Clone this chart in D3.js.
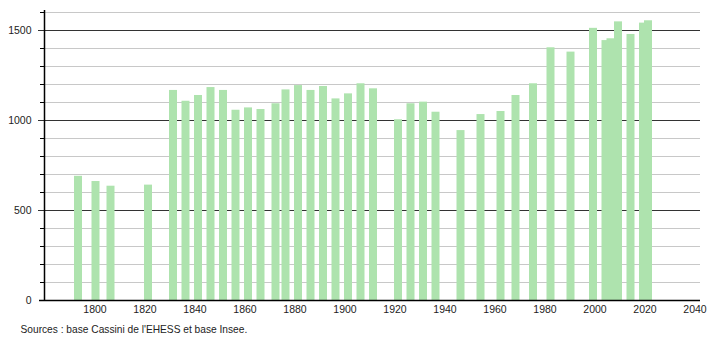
<!DOCTYPE html>
<html>
<head>
<meta charset="utf-8">
<script src="https://cdn.jsdelivr.net/npm/d3@7"></script>
<style>
  html, body { margin: 0; padding: 0; background: #fff; }
  svg text { font-family: "Liberation Sans", Arial, sans-serif; }
</style>
</head>
<body>
<svg id="chart" width="710" height="340"></svg>
<script>
const years = [1793, 1800, 1806, 1821, 1831, 1836, 1841, 1846, 1851, 1856,
  1861, 1866, 1872, 1876, 1881, 1886, 1891, 1896, 1901, 1906, 1911,
  1921, 1926, 1931, 1936, 1946, 1954, 1962, 1968, 1975, 1982, 1990,
  1999, 2004, 2006, 2009, 2014, 2019, 2021];
const population = [690, 661, 635, 641, 1167, 1107, 1139, 1183, 1167, 1057,
  1070, 1061, 1093, 1170, 1194, 1167, 1189, 1120, 1148, 1204, 1176,
  1004, 1093, 1102, 1046, 944, 1033, 1050, 1139, 1204, 1404, 1380,
  1512, 1444, 1454, 1548, 1478, 1541, 1554];
const xTicks = [1800, 1820, 1840, 1860, 1880, 1900, 1920, 1940, 1960, 1980, 2000, 2020, 2040];
const yMajorTicks = [0, 500, 1000, 1500];
const yMinorTicks = d3.range(100, 1700, 100).filter(v => v % 500 !== 0);
const sourceText = "Sources : base Cassini de l'EHESS et base Insee.";

const svg = d3.select("#chart");
const x = d3.scaleLinear().domain([1780, 2042]).range([45, 700]);
const y = d3.scaleLinear().domain([0, 1600]).range([300, 12]);
const barW = 8;

// light gridlines
svg.append("g").selectAll("line").data(yMinorTicks).join("line")
  .attr("x1", 44).attr("x2", 700)
  .attr("y1", d => Math.round(y(d)) + 0.5).attr("y2", d => Math.round(y(d)) + 0.5)
  .attr("stroke", "#c8c8c8").attr("stroke-width", 1);
// minor tick marks
svg.append("g").selectAll("line").data(yMinorTicks).join("line")
  .attr("x1", 40).attr("x2", 44)
  .attr("y1", d => Math.round(y(d)) + 0.5).attr("y2", d => Math.round(y(d)) + 0.5)
  .attr("stroke", "#000").attr("stroke-width", 1);

// major gridlines
svg.append("g").selectAll("line").data(yMajorTicks.filter(d => d > 0)).join("line")
  .attr("x1", 38).attr("x2", 700)
  .attr("y1", d => Math.round(y(d)) + 0.5).attr("y2", d => Math.round(y(d)) + 0.5)
  .attr("stroke", "#333").attr("stroke-width", 1);

// bars
svg.append("g").selectAll("rect").data(years).join("rect")
  .attr("x", (d) => x(d) - barW / 2 + 0.5)
  .attr("width", barW)
  .attr("y", (d, i) => y(population[i]))
  .attr("height", (d, i) => y(0) - y(population[i]))
  .attr("fill", "#aee3ae");

// y axis line
svg.append("line").attr("x1", 44.5).attr("x2", 44.5).attr("y1", 10).attr("y2", 300)
  .attr("stroke", "#000").attr("stroke-width", 1.5);
// x axis line
svg.append("line").attr("x1", 39).attr("x2", 700).attr("y1", 300.5).attr("y2", 300.5)
  .attr("stroke", "#000").attr("stroke-width", 1.5);

// y labels
svg.append("g").selectAll("text").data(yMajorTicks).join("text")
  .attr("x", 31.5).attr("y", d => y(d) + 3.5)
  .attr("text-anchor", "end").attr("font-size", 10.5).attr("fill", "#222")
  .text(d => d);

// x labels
svg.append("g").selectAll("text").data(xTicks).join("text")
  .attr("x", d => x(d)).attr("y", 313)
  .attr("text-anchor", "middle").attr("font-size", 10.5).attr("fill", "#222")
  .text(d => d);

// source
svg.append("text").attr("x", 20.5).attr("y", 333)
  .attr("font-size", 10.2).attr("fill", "#222").text(sourceText);
</script>
</body>
</html>
